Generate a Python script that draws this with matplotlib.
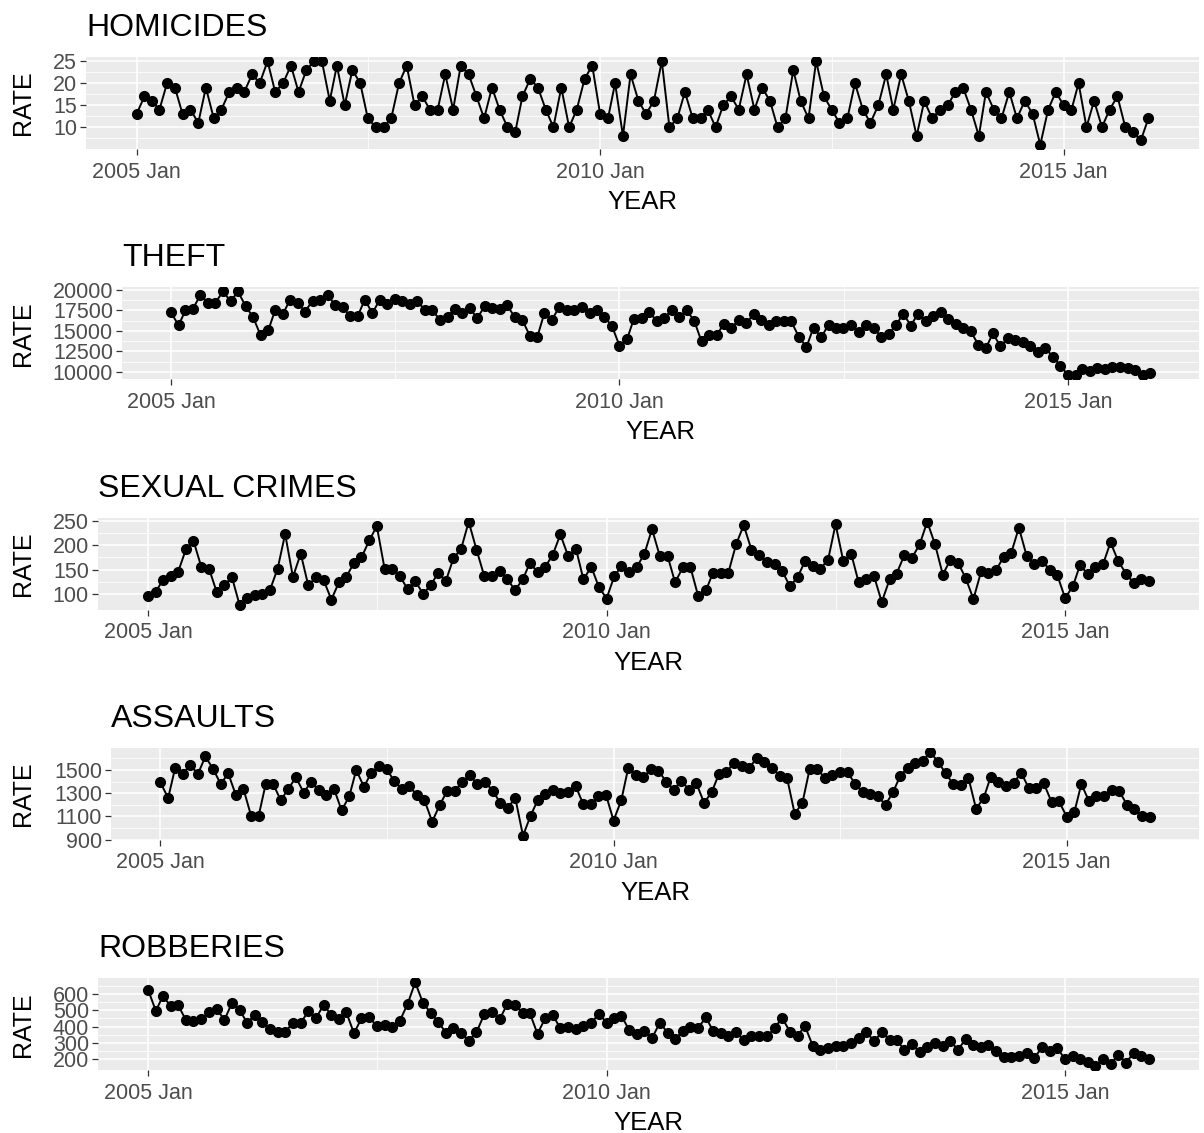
import numpy as np
import pandas as pd
import matplotlib
matplotlib.use("Agg")
import matplotlib.pyplot as plt
import matplotlib.dates as mdates

plt.rcParams["font.family"] = ["Liberation Sans", "DejaVu Sans"]

# ===== 데이터 (월별, 2005 Jan ~ 2015 Dec) =====
months = pd.date_range("2005-01-01", periods=132, freq="MS")
x_tick_dates = ["2005-01-01", "2010-01-01", "2015-01-01"]
x_tick_labels = ["2005 Jan", "2010 Jan", "2015 Jan"]
x_minor_dates = ["2007-07-02", "2012-07-02"]

homicides = [13, 17, 16, 14, 20, 19, 13, 14, 11, 19, 12, 14,
             18, 19, 18, 22, 20, 25, 18, 20, 24, 18, 23, 25,
             25, 16, 24, 15, 23, 20, 12, 10, 10, 12, 20, 24,
             15, 17, 14, 14, 22, 14, 24, 22, 17, 12, 19, 14,
             10, 9, 17, 21, 19, 14, 10, 19, 10, 14, 21, 24,
             13, 12, 20, 8, 22, 16, 13, 16, 25, 10, 12, 18,
             12, 12, 14, 10, 15, 17, 14, 22, 14, 19, 16, 10,
             12, 23, 16, 12, 25, 17, 14, 11, 12, 20, 14, 11,
             15, 22, 14, 22, 16, 8, 16, 12, 14, 15, 18, 19,
             14, 8, 18, 14, 12, 18, 12, 16, 13, 6, 14, 18,
             15, 14, 20, 10, 16, 10, 14, 17, 10, 9, 7, 12]

theft = [17250, 15670, 17500, 17700, 19400, 18400, 18450, 19800, 18600, 19800, 18000, 16700,
         14450, 15050, 17500, 17000, 18800, 18400, 17350, 18700, 18800, 19400, 18100, 17900,
         16750, 16850, 18800, 17150, 18800, 18250, 18850, 18650, 18250, 18600, 17550, 17500,
         16350, 16650, 17700, 17150, 17750, 16550, 18000, 17750, 17700, 18100, 16650, 16350,
         14400, 14300, 17150, 16350, 17900, 17500, 17500, 17900, 17150, 17550, 16700, 15600,
         13200, 14000, 16500, 16550, 17300, 16250, 16550, 17500, 16650, 17500, 16250, 13700,
         14450, 14450, 15850, 15350, 16300, 15950, 17000, 16350, 15750, 16150, 16150, 16150,
         14300, 13000, 15400, 14200, 15750, 15350, 15350, 15750, 14850, 15750, 15350, 14300,
         14600, 15750, 17100, 15650, 17100, 16150, 16750, 17350, 16500, 15850, 15400, 14950,
         13300, 12900, 14700, 13100, 14100, 13850, 13650, 13100, 12400, 12900, 11800, 10750,
         9600, 9650, 10400, 10100, 10500, 10300, 10600, 10600, 10500, 10200, 9650, 9850]

sexual = [97, 105, 129, 137, 146, 192, 209, 156, 152, 105, 118, 135,
          77, 93, 98, 101, 108, 152, 223, 135, 183, 118, 135, 129,
          89, 125, 135, 164, 175, 210, 239, 152, 152, 137, 110, 127,
          101, 118, 144, 127, 173, 193, 248, 191, 137, 137, 147, 132,
          108, 130, 163, 146, 155, 181, 222, 178, 193, 130, 156, 115,
          91, 137, 157, 146, 155, 183, 233, 178, 178, 124, 155, 155,
          96, 108, 144, 144, 144, 202, 241, 191, 180, 165, 161, 148,
          116, 135, 167, 157, 152, 170, 243, 167, 183, 124, 132, 137,
          84, 130, 142, 180, 174, 202, 248, 202, 140, 170, 164, 133,
          90, 147, 144, 149, 176, 185, 236, 178, 161, 168, 150, 139,
          92, 116, 159, 142, 155, 161, 206, 167, 142, 123, 132, 127]

assaults = [1392, 1258, 1515, 1465, 1544, 1465, 1616, 1509, 1378, 1471, 1282, 1340,
            1107, 1107, 1378, 1375, 1238, 1340, 1436, 1305, 1398, 1325, 1288, 1340,
            1151, 1273, 1500, 1355, 1477, 1535, 1506, 1407, 1334, 1360, 1282, 1238,
            1055, 1200, 1317, 1320, 1392, 1456, 1375, 1398, 1320, 1218, 1174, 1258,
            933, 1107, 1238, 1290, 1325, 1305, 1311, 1363, 1203, 1203, 1276, 1288,
            1064, 1238, 1515, 1456, 1436, 1509, 1494, 1398, 1331, 1407, 1331, 1384,
            1215, 1311, 1462, 1480, 1564, 1535, 1515, 1602, 1567, 1520, 1451, 1433,
            1122, 1215, 1506, 1506, 1433, 1456, 1480, 1480, 1378, 1311, 1296, 1273,
            1200, 1311, 1448, 1520, 1564, 1581, 1654, 1567, 1471, 1375, 1369, 1433,
            1165, 1261, 1442, 1392, 1363, 1384, 1477, 1346, 1346, 1384, 1224, 1229,
            1098, 1136, 1378, 1232, 1273, 1273, 1331, 1317, 1200, 1165, 1107, 1098]

robberies = [626, 496, 586, 526, 530, 440, 436, 446, 490, 510, 440, 544,
             500, 420, 474, 426, 386, 370, 370, 420, 420, 496, 450, 534,
             470, 444, 490, 360, 450, 456, 404, 410, 400, 436, 540, 670,
             544, 484, 430, 364, 394, 364, 314, 366, 476, 490, 444, 536,
             534, 484, 484, 356, 450, 470, 390, 396, 386, 404, 420, 480,
             424, 450, 466, 380, 355, 376, 330, 424, 364, 324, 374, 396,
             394, 456, 374, 360, 344, 370, 316, 344, 344, 340, 390, 454,
             370, 346, 404, 284, 260, 270, 284, 284, 300, 330, 370, 310,
             366, 320, 316, 260, 296, 244, 276, 300, 284, 310, 260, 324,
             290, 276, 290, 254, 214, 214, 224, 240, 210, 274, 254, 270,
             200, 220, 204, 184, 160, 204, 170, 230, 180, 240, 224, 204]

titles = ["HOMICIDES", "THEFT", "SEXUAL CRIMES", "ASSAULTS", "ROBBERIES"]
series = [homicides, theft, sexual, assaults, robberies]
y_ticks = [[10, 15, 20, 25],
           [10000, 12500, 15000, 17500, 20000],
           [100, 150, 200, 250],
           [900, 1100, 1300, 1500],
           [200, 300, 400, 500, 600]]
y_minor = [[7.5, 12.5, 17.5, 22.5],
           [11250, 13750, 16250, 18750],
           [125, 175, 225],
           [1000, 1200, 1400, 1600],
           [250, 350, 450, 550, 650]]

# ===== 레이아웃 (픽셀) =====
W, H = 1204, 1133
lefts = [86, 122, 98, 111, 98]
RIGHT = 1199
TOP0, STEP, PH = 57, 230.3, 92

fig = plt.figure(figsize=(W / 100, H / 100), dpi=100)

xnum = mdates.date2num(months)
span = xnum[-1] - xnum[0]
xlim = (xnum[0] - 0.05 * span, xnum[-1] + 0.05 * span)

for i, (name, vals) in enumerate(zip(titles, series)):
    top = TOP0 + i * STEP
    left = lefts[i]
    ax = fig.add_axes([left / W, 1 - (top + PH) / H, (RIGHT - left) / W, PH / H])
    ax.set_facecolor("#EBEBEB")
    for s in ax.spines.values():
        s.set_visible(False)

    ax.plot(months, vals, color="black", lw=1.4, marker="o", ms=7, zorder=3)

    ax.set_xlim(*xlim)
    lo, hi = min(vals), max(vals)
    r = hi - lo
    ax.set_ylim(lo - 0.05 * r, hi + 0.05 * r)

    ax.set_xticks(mdates.date2num(pd.to_datetime(x_tick_dates)))
    ax.set_xticklabels(x_tick_labels)
    ax.set_xticks(mdates.date2num(pd.to_datetime(x_minor_dates)), minor=True)
    ax.set_yticks(y_ticks[i])
    ax.set_yticklabels([str(v) for v in y_ticks[i]])
    ax.set_yticks(y_minor[i], minor=True)

    ax.set_axisbelow(True)
    ax.grid(which="major", color="white", lw=1.1)
    ax.grid(which="minor", color="white", lw=0.55)
    ax.tick_params(which="major", length=4, width=0.9, color="#333333",
                   labelcolor="#4D4D4D", labelsize=15.5, pad=2.5)
    ax.tick_params(axis="x", which="major", pad=5)
    ax.tick_params(which="minor", length=0)

    ax.set_title(name, loc="left", fontsize=23, pad=15, color="black")
    ax.set_ylabel("RATE", fontsize=18)
    ax.yaxis.set_label_coords(35 / W, 1 - (top + PH / 2) / H, transform=fig.transFigure)
    ax.set_xlabel("YEAR", fontsize=18.5)
    ax.xaxis.set_label_coords((left + RIGHT) / 2 / W, 1 - (top + PH + 41) / H,
                              transform=fig.transFigure)

fig.savefig("out.png", dpi=100, facecolor="white")
